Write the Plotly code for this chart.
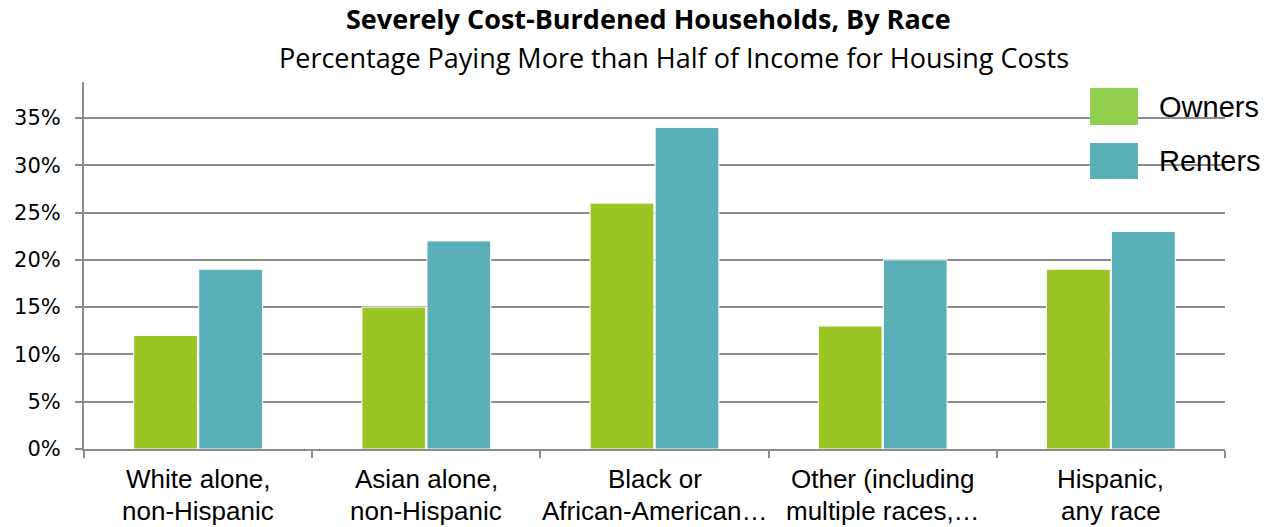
import plotly.graph_objects as go

categories = ["White alone,<br>non-Hispanic", "Asian alone,<br>non-Hispanic",
              "Black or<br>African-American…", "Other (including<br>multiple races,…",
              "Hispanic,<br>any race"]
owners = [0.12, 0.15, 0.26, 0.13, 0.19]
renters = [0.19, 0.22, 0.34, 0.20, 0.23]
series_names = ["Owners", "Renters"]
y_ticks = [0, 0.05, 0.10, 0.15, 0.20, 0.25, 0.30, 0.35]

W, H = 1273, 527
L, R, T, B = 84, 48, 82, 78
PW, PH = W - L - R, H - T - B

def px(x):
    return (x - L) / PW

def py(y):
    return (H - B - y) / PH

bar_colors = ["#9ac524", "#5bafb9"]
legend_colors = ["#92d050", "#5bafb9"]
grid = "#8c8c8c"

fig = go.Figure()
for name, vals, col in zip(series_names, [owners, renters], bar_colors):
    fig.add_trace(go.Bar(x=categories, y=vals, name=name, marker_color=col,
                         marker_line=dict(color="white", width=1)))

fig.update_layout(
    width=W, height=H, margin=dict(l=L, r=R, t=T, b=B),
    plot_bgcolor="white", paper_bgcolor="white",
    barmode="group", bargap=0.43, bargroupgap=0.02,
    showlegend=False,
    font=dict(family="Liberation Sans, Arial", color="black"),
)
fig.update_xaxes(showticklabels=False, showline=True, linecolor=grid, linewidth=2,
                 ticks="outside", tickson="boundaries", ticklen=7, tickcolor=grid,
                 tickwidth=2, showgrid=False)
fig.update_yaxes(range=[0, 0.388], tickvals=y_ticks, tickformat=".0%",
                 showline=True, linecolor=grid, linewidth=2, ticks="outside",
                 ticklen=7, tickcolor=grid, tickwidth=2, showgrid=True,
                 gridcolor=grid, gridwidth=2, zeroline=False, ticklabelstandoff=10,
                 tickfont=dict(family="DejaVu Sans", size=21, color="black"))

# category labels
for c in categories:
    l1, l2 = c.split("<br>")
    fig.add_annotation(x=c, xref="x", y=py(479), yref="paper", text=l1, showarrow=False,
                       yanchor="middle", font=dict(size=26, family="Liberation Sans"))
    fig.add_annotation(x=c, xref="x", y=py(511), yref="paper", text=l2, showarrow=False,
                       yanchor="middle", font=dict(size=26, family="Liberation Sans"))

# titles
fig.add_annotation(x=630 / W, xref="paper", y=py(18), yref="paper", xanchor="center",
                   yanchor="middle", showarrow=False,
                   text="<b>Severely Cost-Burdened Households, By Race</b>",
                   font=dict(family="Open Sans", size=27, color="black"))
fig.add_annotation(x=658 / W, xref="paper", y=py(57), yref="paper", xanchor="center",
                   yanchor="middle", showarrow=False,
                   text="Percentage Paying More than Half of Income for Housing Costs",
                   font=dict(family="Open Sans", size=27, color="black"))

# legend
for (y0, y1), name, col in zip([(88, 125), (143, 179)], series_names, legend_colors):
    fig.add_shape(type="rect", xref="paper", yref="paper", x0=px(1090), x1=px(1138),
                  y0=py(y1), y1=py(y0), fillcolor=col, line_width=0)
    fig.add_annotation(x=px(1157), xref="paper", y=py((y0 + y1) / 2), yref="paper",
                       xanchor="left", yanchor="middle", showarrow=False, text=name,
                       font=dict(size=29, family="Liberation Sans", color="black"))

fig.write_html("out.html")
